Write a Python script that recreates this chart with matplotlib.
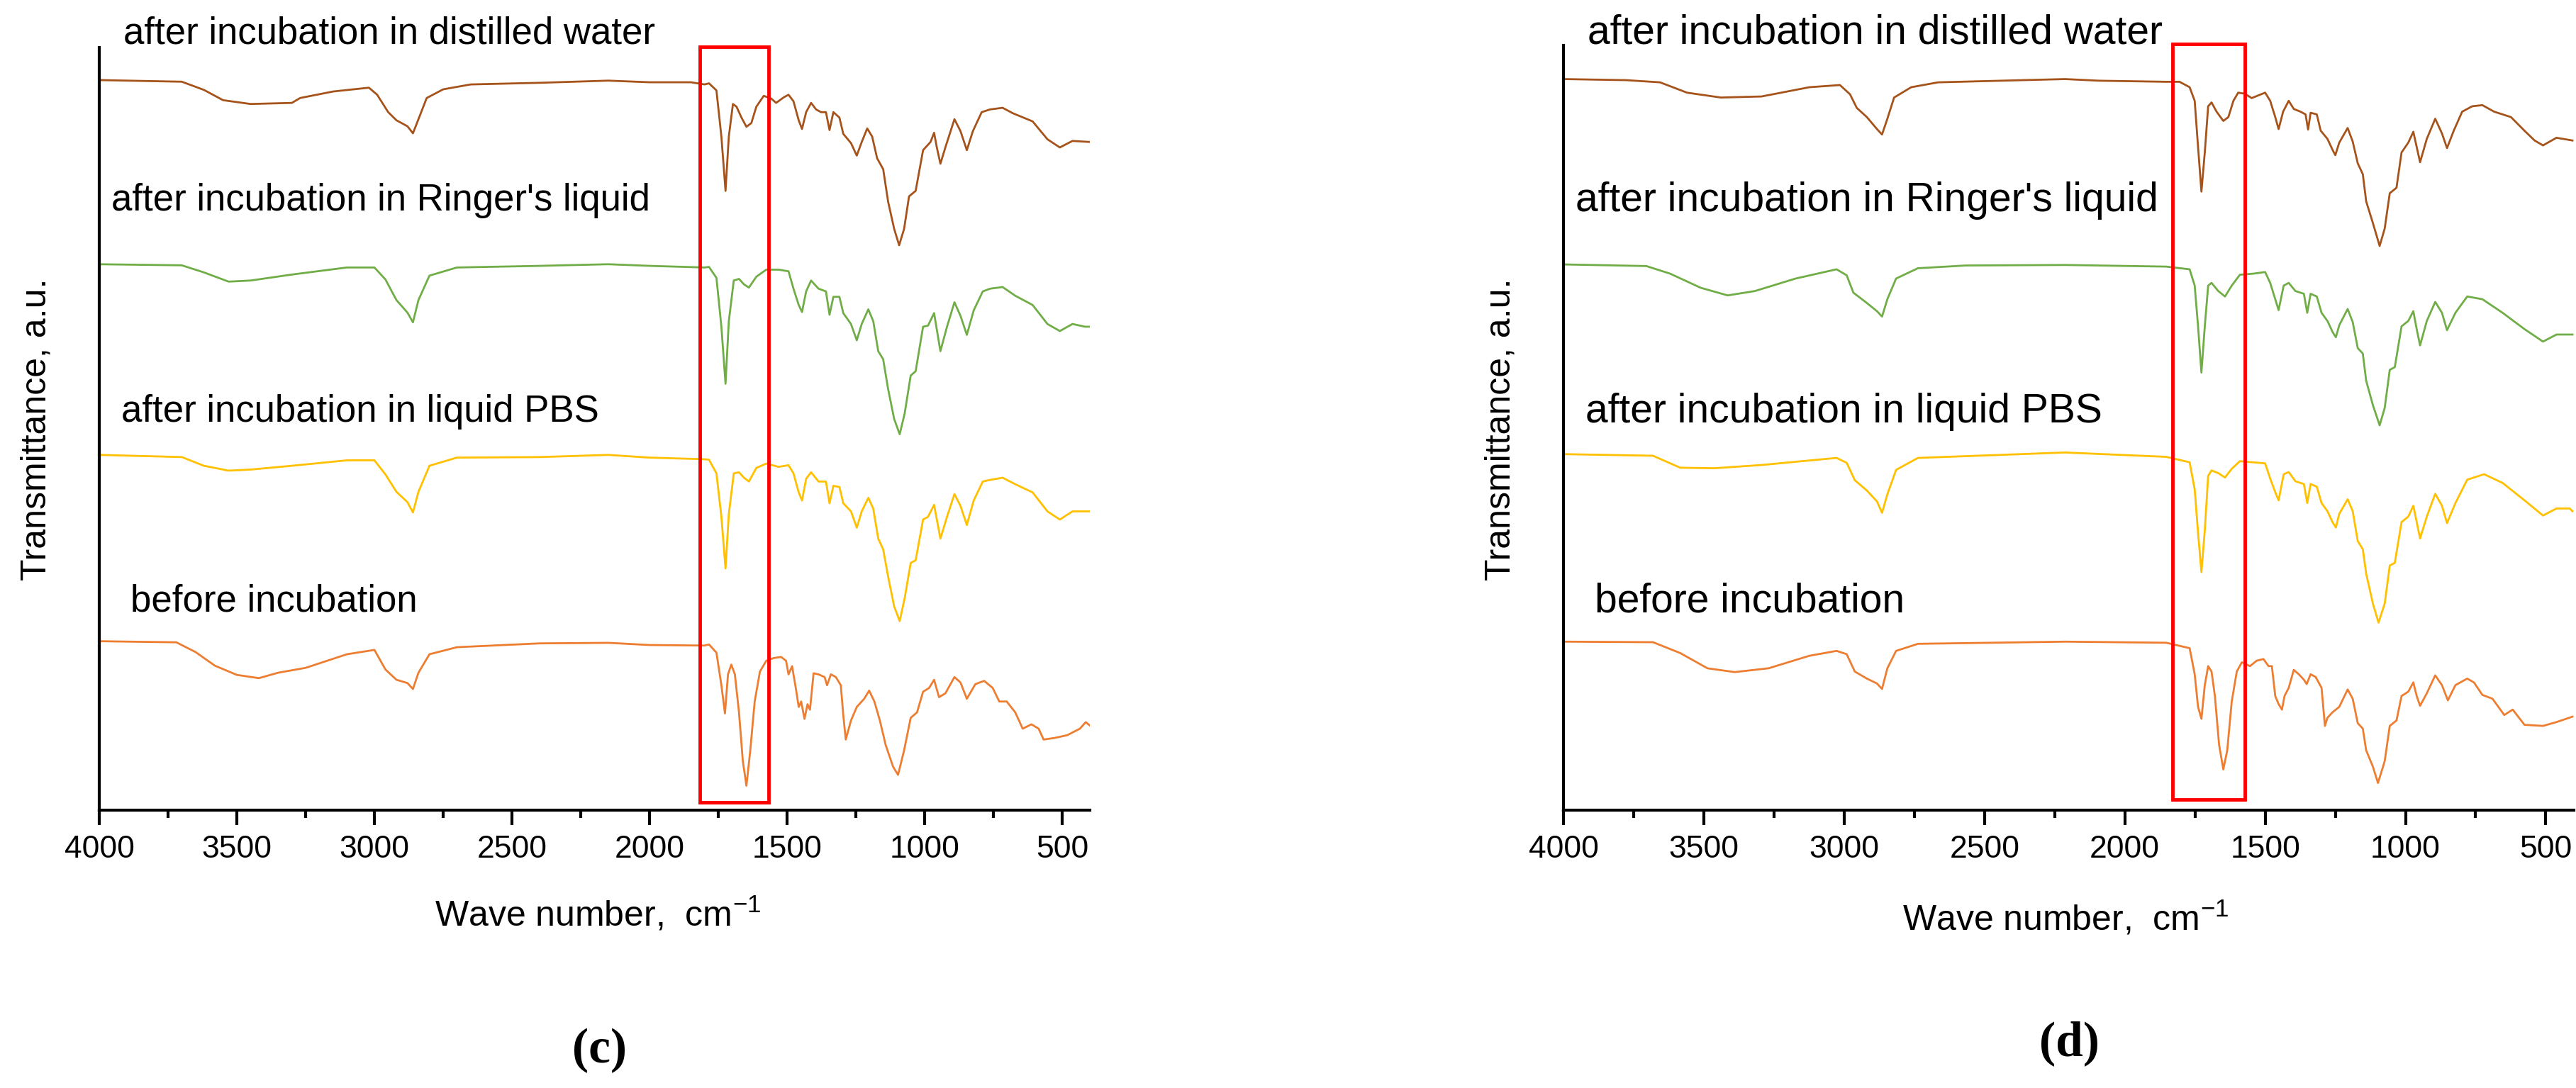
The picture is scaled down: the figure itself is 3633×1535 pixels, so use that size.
import numpy as np
import matplotlib
matplotlib.use("Agg")
import matplotlib.pyplot as plt
from matplotlib.patches import Rectangle

plt.rcParams['font.family'] = ['Liberation Sans', 'DejaVu Sans']
plt.rcParams['mathtext.fontset'] = 'custom'
plt.rcParams['mathtext.rm'] = 'Liberation Sans'

# ---------------- data (signal in a.u., larger = lower transmittance) ----------------
labels = ["after incubation in distilled water", "after incubation in Ringer's liquid",
          "after incubation in liquid PBS", "before incubation"]
colors = ["#A5521B", "#70AD47", "#FFC000", "#ED7D31"]

# panel (c)
c_water_wn = [4000,3700,3620,3550,3450,3300,3270,3150,3020,2990,2950,2920,2880,2860,2840,2810,2750,2650,2400,2150,2000,1850,1800,
              1784,1757,1739,1724,1712,1697,1684,1666,1648,1630,1612,1585,1558,1540,1513,1495,1477,1458,1446,1431,1413,1395,1377,1359,1346,1332,1310,1296,1268,1247,1229,1209,1191,1173,1151,1133,1111,1093,1075,1057,1033,1006,979,966,956,943,925,892,870,847,825,793,762,717,680,608,554,509,463,398]
c_water_y = [146,149,164,183,190,188,179,167,160,173,205,220,231,244,218,179,163,154,151,147,150,150,154,
             152,165,250,350,250,190,195,215,232,225,195,175,180,188,178,173,185,220,236,205,188,200,205,205,238,205,215,245,262,285,260,235,250,290,310,370,420,450,420,360,350,275,260,243,270,300,270,218,240,275,240,205,200,197,207,222,255,270,258,260]
c_ringer_wn = [4000,3700,3620,3530,3450,3300,3100,3000,2960,2920,2880,2860,2840,2800,2700,2400,2150,2000,1800,
               1784,1757,1739,1724,1712,1694,1675,1657,1639,1612,1576,1531,1495,1477,1458,1446,1431,1413,1386,1359,1346,1332,1310,1296,1268,1247,1229,1205,1187,1169,1151,1133,1111,1091,1073,1051,1033,1006,988,966,943,919,892,870,847,822,789,762,717,671,608,554,509,463,418,398]
c_ringer_y = [485,487,500,517,515,504,491,491,513,551,574,592,551,506,491,488,485,488,491,
              490,510,600,705,590,515,512,522,528,508,495,495,498,530,560,573,535,515,530,535,578,545,545,575,595,625,595,568,590,645,660,715,770,798,760,690,682,600,598,575,645,600,555,580,615,570,535,530,527,543,560,595,608,595,600,600]
c_pbs_wn = [4000,3700,3620,3530,3450,3300,3100,3000,2960,2920,2880,2860,2840,2800,2700,2400,2150,2000,1800,
            1784,1757,1739,1724,1712,1694,1675,1657,1639,1612,1576,1531,1495,1477,1458,1446,1431,1413,1386,1359,1346,1332,1310,1296,1268,1247,1229,1205,1187,1169,1151,1133,1111,1091,1073,1051,1033,1006,988,966,943,919,892,870,847,822,789,762,717,671,608,554,509,463,398]
c_pbs_y = [836,840,856,865,863,856,846,846,872,904,923,942,904,856,841,840,836,841,844,
           845,870,950,1045,945,870,868,878,885,860,852,858,855,870,905,920,880,868,885,885,925,893,895,925,940,970,940,915,935,990,1010,1060,1115,1142,1100,1035,1030,955,950,928,990,950,908,930,965,920,885,882,878,890,905,940,955,940,940]
c_before_wn = [4000,3720,3650,3580,3500,3420,3350,3250,3100,3000,2960,2920,2880,2860,2840,2800,2700,2400,2150,2000,1800,
               1784,1757,1739,1726,1715,1703,1690,1675,1661,1648,1634,1618,1599,1576,1549,1522,1504,1495,1482,1467,1458,1449,1437,1426,1417,1404,1386,1364,1355,1341,1323,1305,1296,1287,1268,1247,1220,1202,1183,1163,1142,1115,1097,1075,1051,1028,1006,984,966,948,925,892,870,847,816,784,753,729,702,671,644,612,586,568,527,482,436,415,398]
c_before_y = [1179,1181,1199,1224,1241,1247,1237,1228,1203,1195,1231,1250,1256,1267,1237,1203,1190,1183,1182,1186,1187,
              1185,1200,1260,1312,1240,1222,1240,1310,1400,1445,1380,1290,1235,1215,1210,1208,1215,1240,1225,1270,1300,1290,1322,1295,1305,1238,1240,1245,1260,1240,1245,1260,1315,1360,1325,1300,1285,1270,1290,1325,1370,1410,1425,1380,1320,1310,1272,1265,1250,1282,1275,1245,1255,1285,1258,1252,1265,1290,1290,1310,1340,1332,1340,1360,1357,1352,1340,1328,1335]

# panel (d)
d_water_wn = [4000,3777,3656,3560,3439,3294,3124,3015,2979,2955,2919,2883,2865,2846,2822,2761,2665,
              2213,2093,1853,1805,1769,1751,1739,1727,1715,1703,1691,1673,1649,1631,1613,1596,1572,1548,1524,1500,1482,1464,1452,1436,1416,1398,1374,1356,1347,1338,1316,1302,1278,1260,1250,1236,1206,1188,1170,1152,1140,1116,1092,1074,1056,1032,1014,990,972,960,948,924,894,870,852,828,798,762,726,684,624,576,540,510,462,405]
d_water_y = [145,147,151,170,179,177,160,156,173,198,215,237,247,218,179,160,151,
             145,148,150,150,160,185,270,352,280,195,188,205,222,215,185,170,172,180,175,170,185,215,237,205,185,200,205,210,238,207,210,240,255,275,285,262,235,260,300,320,370,410,452,420,355,345,280,262,242,270,298,255,218,245,272,240,205,195,193,205,215,240,258,267,253,258]
d_ringer_wn = [4000,3705,3620,3511,3415,3318,3173,3027,2991,2967,2919,2883,2865,2846,2815,2737,2568,
               2213,1853,1769,1751,1739,1727,1715,1703,1691,1667,1643,1619,1590,1542,1500,1482,1464,1452,1434,1416,1392,1362,1350,1338,1316,1299,1278,1260,1248,1236,1206,1188,1170,1152,1140,1116,1092,1074,1056,1038,1014,990,972,960,948,924,894,870,852,822,780,726,654,576,510,462,405]
d_ringer_y = [486,489,503,529,543,535,512,495,506,538,557,572,582,550,512,493,488,
              487,490,495,525,600,685,600,525,520,535,545,525,505,503,500,520,550,570,525,520,535,540,575,540,545,575,590,610,620,598,568,592,640,650,700,745,782,750,680,675,600,590,572,605,635,590,555,575,607,575,545,550,575,605,628,615,615]
d_pbs_wn = [4000,3681,3584,3463,3294,3027,2991,2962,2919,2883,2865,2846,2815,2737,
            2213,1853,1769,1751,1739,1727,1715,1703,1691,1667,1643,1619,1590,1500,1482,1464,1452,1434,1416,1392,1362,1350,1338,1316,1299,1278,1260,1248,1236,1206,1188,1170,1152,1140,1116,1096,1074,1056,1038,1014,990,972,960,948,924,894,870,852,822,780,720,654,576,510,462,415,405]
d_pbs_y = [835,838,860,861,855,842,851,883,902,922,943,909,864,842,
           832,840,850,900,980,1052,975,875,865,870,878,862,848,852,880,905,920,872,868,885,890,925,890,895,925,940,960,970,945,918,940,995,1010,1055,1110,1145,1110,1040,1035,960,950,930,960,990,950,908,930,962,925,882,872,888,920,948,935,935,940]
d_before_wn = [4000,3681,3584,3487,3390,3269,3124,3027,2991,2962,2919,2883,2865,2846,2815,2737,
               2213,1853,1769,1751,1739,1727,1715,1703,1691,1679,1664,1649,1635,1619,1601,1583,1554,1530,1506,1488,1476,1464,1452,1440,1431,1416,1398,1380,1362,1352,1338,1320,1299,1287,1278,1260,1236,1206,1188,1170,1152,1140,1116,1098,1074,1056,1032,1014,990,972,960,948,924,894,870,849,822,780,756,726,690,648,618,576,510,462,405]
d_before_y = [1180,1181,1201,1229,1236,1229,1206,1197,1203,1235,1248,1257,1267,1229,1197,1184,
              1180,1182,1192,1240,1300,1322,1260,1225,1235,1280,1370,1415,1380,1290,1235,1218,1225,1215,1212,1225,1225,1280,1295,1305,1280,1265,1232,1240,1250,1258,1240,1245,1265,1335,1320,1310,1300,1268,1285,1330,1340,1380,1410,1440,1400,1335,1325,1280,1272,1255,1280,1298,1275,1242,1260,1288,1260,1248,1255,1278,1285,1315,1305,1333,1335,1328,1318]

panels = [
    dict(series=[(c_water_wn, c_water_y), (c_ringer_wn, c_ringer_y), (c_pbs_wn, c_pbs_y), (c_before_wn, c_before_y)],
         rect=[140/3633, 1-1143/1535, 1397/3633, 1076/1535], ylim=(1490, 86), box=(1817, 1567, 1475, 85),
         lab_x=[174, 157, 171, 184], lab_fs=38, letter="c", let_x=845, let_y=1482, xl=(843, 1290), yl_x=52),
    dict(series=[(d_water_wn, d_water_y), (d_ringer_wn, d_ringer_y), (d_pbs_wn, d_pbs_y), (d_before_wn, d_before_y)],
         rect=[2205/3633, 1-1143/1535, 1425/3633, 1079/1535], ylim=(1490, 83), box=(1830, 1572, 1470, 80),
         lab_x=[2239, 2222, 2236, 2249], lab_fs=41, letter="d", let_x=2918, let_y=1472, xl=(2913, 1296), yl_x=2117),
]
lab_y = [47, 283, 581, 848]

W, H = 3633, 1535
fig = plt.figure(figsize=(W/100, H/100), dpi=100)
for p in panels:
    ax = fig.add_axes(p["rect"])
    for (wn, y), col in zip(p["series"], colors):
        ax.plot(wn, y, color=col, lw=2.0, solid_joinstyle="round")
    ax.set_xlim(4000, 400)
    ax.set_ylim(*p["ylim"])
    ax.set_xticks([4000, 3500, 3000, 2500, 2000, 1500, 1000, 500])
    ax.set_xticks([3750, 3250, 2750, 2250, 1750, 1250, 750], minor=True)
    ax.set_yticks([])
    for s in ["top", "right"]:
        ax.spines[s].set_visible(False)
    for s in ["left", "bottom"]:
        ax.spines[s].set_linewidth(3)
    ax.tick_params(axis="x", which="major", length=15, width=3, labelsize=32, pad=10)
    ax.tick_params(axis="x", which="minor", length=8, width=3)
    x0, x1, yb, yt = p["box"]
    ax.add_patch(Rectangle((x0, yb), x1 - x0, yt - yb, fill=False, ec="#FF0000", lw=3.5, clip_on=False, zorder=5))
    for lab, lx, ly in zip(labels, p["lab_x"], lab_y):
        fig.text(lx/W, 1-ly/H, lab, fontsize=p["lab_fs"], ha="left", va="center")
    fig.text(p["xl"][0]/W, 1-p["xl"][1]/H, "Wave number,  cm$^{-1}$", fontsize=36, ha="center", va="center")
    fig.text(p["yl_x"]/W, 1-606/H, "Transmittance, a.u.", fontsize=36, rotation=90, ha="center", va="center")
    fig.text(p["let_x"]/W, 1-p["let_y"]/H, "(" + p["letter"] + ")", fontsize=50, ha="center", va="center",
             family="Liberation Serif", weight="bold")

fig.savefig("out.png", dpi=100)
